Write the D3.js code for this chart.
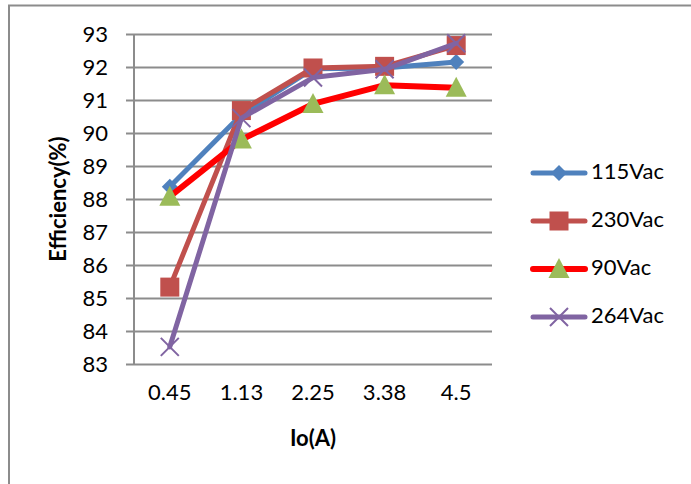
<!DOCTYPE html>
<html>
<head>
<meta charset="utf-8">
<script src="https://cdn.jsdelivr.net/npm/d3@7"></script>
<style>
  html, body { margin: 0; padding: 0; background: #fff; }
  svg { display: block; }
  text { font-family: Lato, "Open Sans", sans-serif; fill: #000; }
</style>
</head>
<body>
<svg id="chart" width="691" height="484"></svg>
<script>
// Load current categories (A)
const categories = ["0.45", "1.13", "2.25", "3.38", "4.5"];

// Efficiency (%) per input voltage
const eff115 = [88.37, 90.55, 91.95, 91.97, 92.15];
const eff230 = [85.33, 90.68, 91.97, 92.02, 92.65];
const eff90  = [88.07, 89.8, 90.88, 91.45, 91.37];
const eff264 = [83.52, 90.45, 91.68, 91.93, 92.72];

const seriesNames = ["115Vac", "230Vac", "90Vac", "264Vac"];
const yTicks = [83, 84, 85, 86, 87, 88, 89, 90, 91, 92, 93];

const series = [
  { name: seriesNames[0], values: eff115, color: "#4F81BD", marker: "diamond", width: 5 },
  { name: seriesNames[1], values: eff230, color: "#C0504D", marker: "square", width: 5 },
  { name: seriesNames[2], values: eff90,  color: "#FF0000", marker: "triangle", width: 6, markerColor: "#9BBB59" },
  { name: seriesNames[3], values: eff264, color: "#8064A2", marker: "cross", width: 5 }
];

const svg = d3.select("#chart");
const grid = "#8c8c8c";
const fs = 22;

// outer chart frame
svg.append("rect")
  .attr("x", 9).attr("y", 5.5)
  .attr("width", 700).attr("height", 500)
  .attr("fill", "none").attr("stroke", grid).attr("stroke-width", 2);

const plot = { left: 134, right: 492, top: 34, bottom: 364 };

const x = d3.scaleBand().domain(categories).range([plot.left, plot.right]);
const y = d3.scaleLinear().domain([83, 93]).range([plot.bottom, plot.top]);

// horizontal gridlines with left tick marks
const yAxis = d3.axisLeft(y).tickValues(yTicks).tickSize(-(plot.right - plot.left)).tickPadding(18).tickFormat(d3.format("d"));
const gy = svg.append("g").attr("transform", `translate(${plot.left},0)`).call(yAxis);
gy.select(".domain").remove();
gy.selectAll(".tick line").attr("stroke", grid).attr("stroke-width", 2).attr("x1", -8);
gy.selectAll(".tick text").attr("font-size", fs).attr("dy", "0.35em").attr("x", -26);

// vertical axis line
svg.append("line")
  .attr("x1", plot.left).attr("x2", plot.left)
  .attr("y1", y(93)).attr("y2", y(83))
  .attr("stroke", grid).attr("stroke-width", 2);

// category labels
const xAxis = d3.axisBottom(x).tickSize(0).tickPadding(0);
const gx = svg.append("g").attr("transform", `translate(0,${plot.bottom})`).call(xAxis);
gx.select(".domain").remove();
gx.selectAll(".tick text").attr("font-size", fs).attr("y", 28).attr("dy", "0.35em");

// axis titles
svg.append("text")
  .attr("transform", `translate(60,${(plot.top + plot.bottom) / 2}) rotate(-90)`)
  .attr("text-anchor", "middle").attr("dominant-baseline", "middle")
  .attr("font-size", fs).attr("font-weight", "bold")
  .text("Efficiency(%)");
svg.append("text")
  .attr("x", (plot.left + plot.right) / 2).attr("y", 440)
  .attr("text-anchor", "middle").attr("dominant-baseline", "middle")
  .attr("font-size", fs).attr("font-weight", "bold")
  .text("Io(A)");

function drawMarker(g, type, cx, cy, s) {
  const color = s.markerColor || s.color;
  if (type === "diamond") {
    g.append("path").attr("d", `M${cx},${cy - 8}L${cx + 8},${cy}L${cx},${cy + 8}L${cx - 8},${cy}Z`).attr("fill", color);
  } else if (type === "square") {
    g.append("rect").attr("x", cx - 9.5).attr("y", cy - 9.5).attr("width", 19).attr("height", 19).attr("fill", color);
  } else if (type === "triangle") {
    g.append("path").attr("d", `M${cx},${cy - 11}L${cx + 10.5},${cy + 9}L${cx - 10.5},${cy + 9}Z`).attr("fill", color);
  } else if (type === "cross") {
    g.append("path").attr("d", `M${cx - 9},${cy - 9}L${cx + 9},${cy + 9}M${cx + 9},${cy - 9}L${cx - 9},${cy + 9}`)
      .attr("stroke", color).attr("stroke-width", 2).attr("fill", "none");
  }
}

const line = d3.line()
  .x((d, i) => x(categories[i]) + x.bandwidth() / 2)
  .y(d => y(d));

series.forEach(s => {
  const g = svg.append("g");
  g.append("path")
    .attr("d", line(s.values))
    .attr("fill", "none").attr("stroke", s.color)
    .attr("stroke-width", s.width).attr("stroke-linejoin", "round").attr("stroke-linecap", "round");
  s.values.forEach((v, i) => drawMarker(g, s.marker, x(categories[i]) + x.bandwidth() / 2, y(v), s));
});

// legend
const legend = svg.append("g");
series.forEach((s, i) => {
  const ly = 173 + i * 48;
  const g = legend.append("g");
  g.append("line").attr("x1", 533).attr("x2", 585).attr("y1", ly).attr("y2", ly)
    .attr("stroke", s.color).attr("stroke-width", s.width).attr("stroke-linecap", "round");
  drawMarker(g, s.marker, 559, ly, s);
  g.append("text").attr("x", 591).attr("y", ly).attr("dominant-baseline", "middle")
    .attr("font-size", fs).text(s.name);
});
</script>
</body>
</html>
